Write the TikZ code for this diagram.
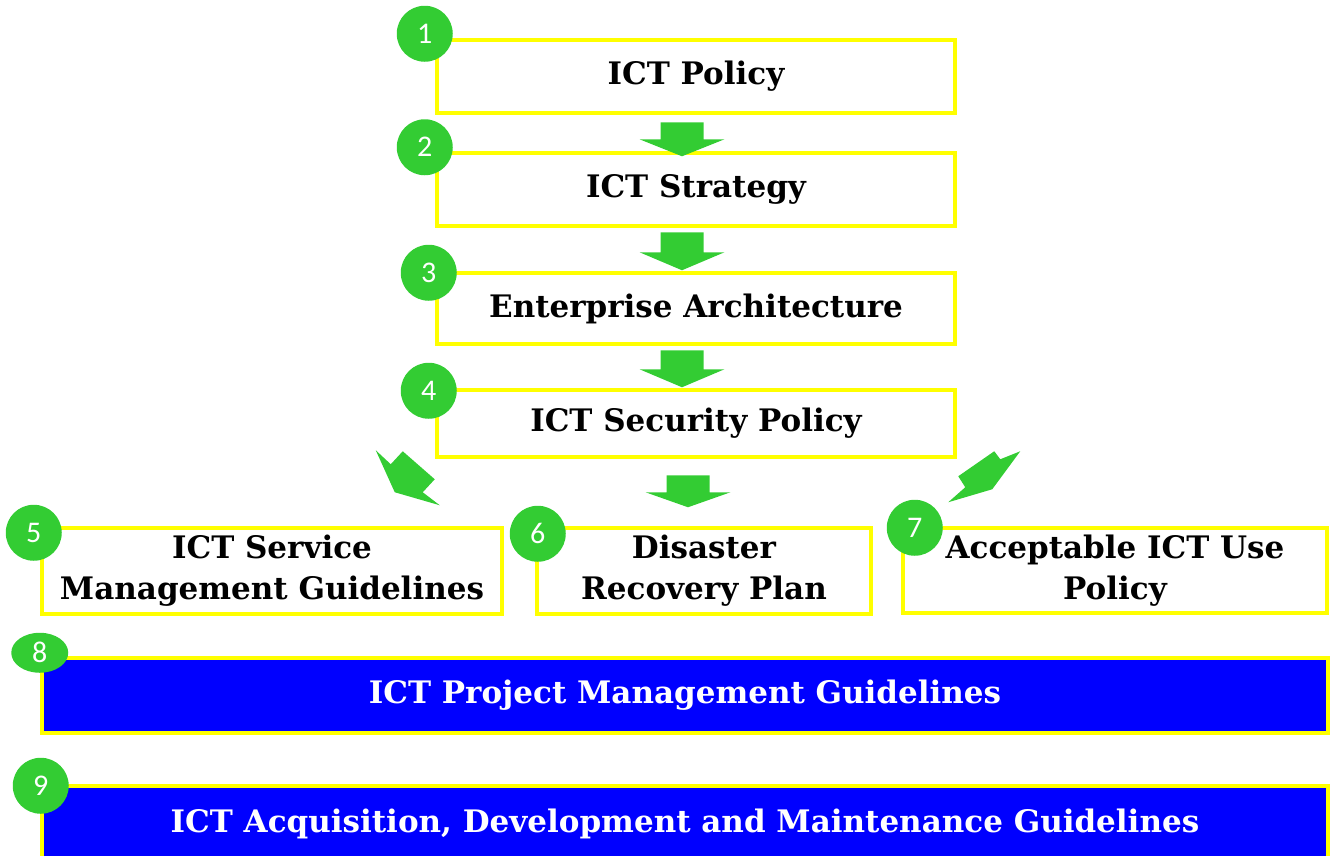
\documentclass[tikz,border=0pt]{standalone}
\usepackage{fontspec}
\setmainfont{DejaVu Serif}
\newfontfamily\numfont{Carlito}
\usetikzlibrary{calc,shapes.geometric}
\definecolor{ngreen}{HTML}{33CC33}
\definecolor{boxyellow}{HTML}{FFFF00}
\definecolor{boxblue}{HTML}{0000FF}

% downward block arrow: top-centre coordinate, shaft length, head length
\newcommand\vblock[3]{%
  \fill[garrow] (#1) ++(-21.5,0) -- ++(43,0) -- ++(0,#2) -- ++(21,0)
    -- ++(-42.5,#3) -- ++(-42.5,-#3) -- ++(21,0) -- cycle;}

\begin{document}
\begin{tikzpicture}[x=1pt,y=-1pt,
  wbox/.style={draw=boxyellow, line width=4.5pt, fill=white, rectangle,
    align=center, inner sep=0pt,
    font=\bfseries\fontsize{31}{41}\selectfont},
  bbox/.style={wbox, fill=boxblue, text=white},
  num/.style={circle, fill=ngreen, text=white, minimum size=56pt,
    inner sep=0pt, font=\numfont\fontsize{30}{30}\selectfont},
  garrow/.style={fill=ngreen}]
\useasboundingbox (0,0) rectangle (1330,855);

% main chain of policy documents
\node[wbox, minimum width=518pt, minimum height=73pt] (b1) at (696,76.5) {ICT Policy};
\node[wbox, minimum width=518pt, minimum height=73pt] (b2) at (696,189.5) {ICT Strategy};
\node[wbox, minimum width=518pt, minimum height=71pt] (b3) at (696,308.5) {Enterprise Architecture};
\node[wbox, minimum width=518pt, minimum height=67pt] (b4) at (696,423.5) {ICT Security Policy};

% documents derived from the security policy
\node[wbox, minimum width=460pt, minimum height=86pt] (b5) at (272,571) {ICT Service\\Management Guidelines};
\node[wbox, minimum width=334pt, minimum height=86pt] (b6) at (704,571) {Disaster\\Recovery Plan};
\node[wbox, minimum width=424pt, minimum height=85pt] (b7) at (1115,570.5) {Acceptable ICT Use\\Policy};

% cross-cutting guidelines
\node[bbox, minimum width=1286pt, minimum height=75pt] (b8) at (685,695.5) {ICT Project Management Guidelines};
\node[bbox, minimum width=1286pt, minimum height=76pt] (b9) at (685,824) {ICT Acquisition, Development and Maintenance Guidelines};

% block arrows between the chain boxes
\coordinate (a12) at ($(b1.south)+(-14,7)$);
\coordinate (a23) at ($(b2.south)+(-14,4)$);
\coordinate (a34) at ($(b3.south)+(-14,4)$);
\coordinate (a46) at ($(b4.south)+(-8,16)$);
\vblock{a12}{17}{17}
\vblock{a23}{20}{18}
\vblock{a34}{19}{18}
\vblock{a46}{17}{15}

% slanted arrows towards boxes 5 and 7
\coordinate (dl) at ($(b4.south west)+(-59,-9)$);
\fill[garrow] (dl) -- ++(19,42) -- ++(45,13) -- ++(-17,-13) -- ++(12,-13)
  -- ++(-32,-28) -- ++(-12,13) -- cycle;
\coordinate (dr) at ($(b4.south east)+(63,-8)$);
\fill[garrow] (dr) -- ++(-28,38) -- ++(-44,13) -- ++(17,-15) -- ++(-7,-11)
  -- ++(36,-25) -- ++(6,8) -- cycle;

% numbered badges
\node[num] (n1) at ($(b1.north west)+(-10,-4)$) {1};
\node[num] (n2) at ($(b2.north west)+(-10,-3.5)$) {2};
\node[num] (n3) at ($(b3.north west)+(-6,2)$) {3};
\node[num] (n4) at ($(b4.north west)+(-6,3)$) {4};
\node[num] (n5) at ($(b5.north west)+(-6,7)$) {5};
\node[num] (n6) at ($(b6.north west)+(3,8)$) {6};
\node[num] (n7) at ($(b7.north west)+(14,2)$) {7};
\node[num, ellipse, minimum width=57pt, minimum height=40pt] (n8) at ($(b8.north west)+(0,-3)$) {8};
\node[num] (n9) at ($(b9.north west)+(1,2)$) {9};
\end{tikzpicture}
\end{document}
